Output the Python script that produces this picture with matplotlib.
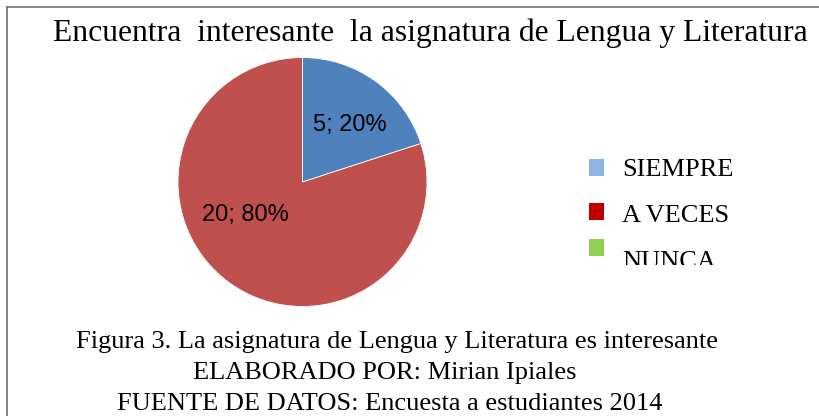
import matplotlib
matplotlib.use("Agg")
import matplotlib.pyplot as plt
from matplotlib.patches import Rectangle
from matplotlib.lines import Line2D

W, H = 820, 416

categorias = ["SIEMPRE", "A VECES", "NUNCA"]
valores = [5, 20, 0]
colores_pie = ["#4F81BD", "#C0504D", "#9BBB59"]
colores_leyenda = ["#8DB4E2", "#C00000", "#92D050"]

titulo = "Encuentra  interesante  la asignatura de Lengua y Literatura"
pie_lineas = ["Figura 3. La asignatura de Lengua y Literatura es interesante",
              "ELABORADO POR: Mirian Ipiales",
              "FUENTE DE DATOS: Encuesta a estudiantes 2014"]

serif = "Liberation Serif"

def fx(px):
    return px / W

def fy(py):
    return 1 - py / H

fig = plt.figure(figsize=(W / 100, H / 100), dpi=100)
fig.patch.set_facecolor("white")

# marco (solo arriba e izquierda visibles)
fig.add_artist(Line2D([fx(7), fx(820)], [fy(7), fy(7)], color="#6f6f6f", lw=1.2))
fig.add_artist(Line2D([fx(7), fx(7)], [fy(7), fy(416)], color="#6f6f6f", lw=1.2))

fig.text(fx(430), fy(41), titulo, ha="center", va="baseline",
         fontsize=22.8, family=serif)

# pastel
cx, cy, r = 302.5, 182, 124.5
ax = fig.add_axes([fx(cx - r), fy(cy + r), (2 * r) / W, (2 * r) / H])
vals = [v for v in valores if v > 0]
cols = [c for v, c in zip(valores, colores_pie) if v > 0]
total = sum(vals)
wedges, _ = ax.pie(vals, colors=cols, startangle=90, counterclock=False,
                   radius=1, wedgeprops=dict(linewidth=0.6, edgecolor="white"))
ax.set_xlim(-1, 1)
ax.set_ylim(-1, 1)
ax.set_aspect("auto")
ax.axis("off")

pos_etq = [(350, 125), (245, 215)]
for v, (px, py) in zip(vals, pos_etq):
    ax.text((px - cx) / r, (cy - py) / r, "%d; %d%%" % (v, round(100 * v / total)),
            ha="center", va="center", fontsize=17, family="Liberation Sans")

# leyenda recortada
lax = fig.add_axes([fx(560), fy(265), fx(800) - fx(560), (265 - 140) / H])
lax.set_xlim(560, 800)
lax.set_ylim(265, 140)
lax.axis("off")
cuadros = [167.5, 211.5, 247.5]
bases_ley = [176, 222, 268]
for nombre, col, yc, yb in zip(categorias, colores_leyenda, cuadros, bases_ley):
    lax.add_patch(Rectangle((589, yc - 8.5), 15, 17, facecolor=col, edgecolor="none"))
    lax.text(622, yb, nombre, ha="left", va="baseline", fontsize=19,
             family=serif, clip_on=True)

bases = [348, 379, 410]
centros = [397, 385, 390]
for linea, b, c in zip(pie_lineas, bases, centros):
    fig.text(fx(c), fy(b), linea, ha="center", va="baseline", fontsize=19,
             family=serif)

fig.savefig("out.png", dpi=100, facecolor="white")
